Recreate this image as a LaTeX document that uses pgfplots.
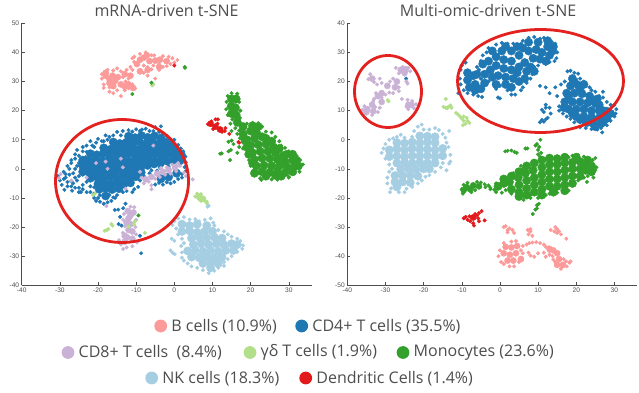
\documentclass[border=0pt]{standalone}
\usepackage{pgfplots}
\pgfplotsset{compat=1.18}
\usepackage{fontspec}
\setmainfont{Liberation Sans}
\newfontfamily\labelfont{Open Sans}
\definecolor{cB}{HTML}{FB9A99}
\definecolor{cCDf}{HTML}{1F78B4}
\definecolor{cCDe}{HTML}{CAB2D6}
\definecolor{cGD}{HTML}{B2DF8A}
\definecolor{cMo}{HTML}{33A02C}
\definecolor{cNK}{HTML}{A6CEE3}
\definecolor{cDC}{HTML}{E31A1C}
\definecolor{cAx}{HTML}{4D4D4D}
\definecolor{cRing}{HTML}{E3211F}
\pgfplotsset{
  tsne/.style={scale only axis,width=290pt,height=262pt,axis lines=left,
    axis line style={-,cAx,line width=0.8pt},
    every tick/.style={cAx,line width=0.5pt},tick align=inside,major tick length=3pt,
    tick label style={font=\fontsize{6.6}{7}\selectfont,text=cAx},
    /pgf/number format/assume math mode=true,
    xmin=-40,xmax=36,xtick={-40,-30,...,30},
    xticklabel style={yshift=1pt},yticklabel style={xshift=1pt},clip=false},
  big/.style={only marks,mark=*,mark size=4.2pt,color=#1,mark options={draw=none,fill=#1}},
  mid/.style={only marks,mark=*,mark size=3.1pt,color=#1,mark options={draw=none,fill=#1}},
  sm/.style={only marks,mark=*,mark size=1.8pt,color=#1,mark options={draw=none,fill=#1}},
}
\begin{document}
\begin{tikzpicture}[x=1pt,y=1pt]
\path (0,0) rectangle (639,393);
% ---------------- left panel
\begin{axis}[tsne,at={(21.7pt,107.7pt)},anchor=south west,ymin=-40,ymax=50,ytick={-40,-30,...,50}]
% B cells
\addplot[mid=cB] coordinates {(-18,32)(-17,30.8)(-16.2,32)(-17,29.5)(-15.5,30.2)(-14,29)(-13,28.3)(-16,28.4)(-18,33)(-14.8,31.5)(-9,37.5)(-8,38.2)(-7.2,39)(-6.5,37)(-5,37.2)(-3.8,37.5)(-9.8,36)(-11.5,32)(-12,29)(-10.8,27.8)(-7,34)(-4,35)(-2,37)(-13,32.5)(-9,33.5)};
\addplot[sm=cB] coordinates {(-14,25)(-11,29)(-12,31)(-13,33)(-12.5,34)(-13.5,31.5)(-8,33)(-9,34)(-7,32)(-4,34)(-6,34.2)(-3,35)(-1,36)(-1.5,38.5)(0,36.5)(0.8,37.4)(-0.5,38)(-5,31)(-19,31)(-19,32.5)(-17,26.5)(-16,26)(-15,27)(-18.5,29)(-17.5,34)(-16,33.8)(-14,33.5)(-12,27.7)(-11,27.5)(-10.3,27.6)(-13,27)(-11.5,35)(-11,34)(-10.5,36.7)(-9,39.5)(-7.5,40)(-6,39)(-5.5,35.5)(-4,36)(-2.5,37)(-3,38.7)(-2,35.3)(-8,35.5)(-12,29.5)(-12.8,30)(-18.5,27.8)(-15,34.5)(-17,28)(-5.3,39)(-7,35)(-11,38)(-10.5,38.5)};
% CD4 T
\addplot[big=cCDf] coordinates {(-12,11.2)(-10.3,10.7)(-8.6,11.4)(-7,10.8)(-5.2,11.3)(-3.5,10.6)(-16,9.2)(-14.3,8.7)(-12.6,9.1)(-11,8.8)(-9.2,9.3)(-7.5,8.6)(-5.8,9.2)(-4,8.7)(-2.4,9.2)(-0.8,8.5)(-18.5,7.2)(-16.8,6.7)(-15,7.1)(-13.4,6.8)(-11.7,7.2)(-10,6.7)(-8.3,7.2)(-6.6,6.8)(-4.9,7.1)(-3.2,6.7)(-1.5,7.2)(0.2,6.6)(-22,5.2)(-20.3,4.8)(-18.6,5.3)(-16.9,4.7)(-15.2,5.2)(-13.5,4.8)(-11.8,5.3)(-10.1,4.7)(-8.4,5.2)(-6.7,4.8)(-5,5.2)(-3.3,4.7)(-1.6,5.2)(0.1,4.7)(1.8,5)(-24,3)(-22.3,2.7)(-20.6,3.2)(-18.9,2.7)(-17.2,3.1)(-15.5,2.8)(-13.8,3.2)(-12.1,2.7)(-10.4,3.1)(-8.7,2.8)(-7,3.2)(-5.3,2.7)(-3.6,3.1)(-1.9,2.7)(-0.2,3.1)(1.5,2.8)(-24,1)(-22.3,0.7)(-20.6,1.2)(-18.9,0.7)(-17.2,1.1)(-15.5,0.8)(-13.8,1.2)(-12.1,0.7)(-10.4,1.1)(-8.7,0.8)(-7,1.2)(-5.3,1.7)(-3.6,2)(-24,-1)(-22.3,-1.3)(-20.6,-0.8)(-18.9,-1.3)(-17.2,-0.9)(-15.5,-1.2)(-13.8,-0.8)(-12.1,-1.3)(-10.4,-0.9)(-8.7,-1.2)(-22,-3.2)(-20.3,-2.8)(-18.6,-3.3)(-16.9,-2.7)(-15.2,-3.2)(-13.5,-2.8)(-11.8,-3.3)(-10.1,-2.7)(-20,-5.2)(-18.3,-4.8)(-16.6,-5.2)(-14.9,-4.8)(-13.2,-5.2)(-11.5,-4.8)(-19.7,-7)(-18,-6.7)(-16.3,-7.1)(-14.5,-6.8)(-18,-9.3)(-1.5,-2.8)(-3.5,-3.4)(0.6,-1.5)};
\addplot[sm=cCDf] coordinates {(-30.5,-2.5)(-30,-4)(-29,-1)(-28.5,-3)(-28,1)(-27.5,-2)(-27,3)(-26.5,-5)(-26,0)(-26,5)(-25.5,6.5)(-25,2)(-25.5,-4)(-28,-6)(-28.8,-7.2)(-26.8,-7.5)(-25,-8)(-24,-5.5)(-24,-7)(-23,-8)(-23,-4.5)(-22,-6)(-22,-8)(-21,-10)(-21,-6.3)(-20.5,-11)(-19.5,-11.3)(-18.5,-12)(-17.5,-11.5)(-16.5,-11)(-15.5,-10)(-15,-9)(-13.5,-8)(-12.5,-7.6)(-11,-8)(-10.5,-7)(-9.5,-6.2)(-9,-4)(-24,6)(-23,8)(-22,9.5)(-21,7.5)(-20,10.3)(-19,9.5)(-18,11.5)(-17,11)(-16,11.5)(-15,12.7)(-14,11.5)(-13.5,13)(-12,13.3)(-11,12.8)(-10,13.6)(-9,13)(-8.5,13.5)(-7.5,13.8)(-6.5,13)(-5.5,13)(-5,14.3)(-4,12.7)(-3,12)(-2,11.3)(-1.5,10.2)(-3.5,14.6)(0,10)(1,8.2)(1.7,7)(2.3,6)(2.9,4.2)(3,2.3)(2.7,0.6)(3,-0.8)(2,-1.8)(1,-3.5)(0,-4.5)(-1,-5)(-2,-4.6)(-3,-5.4)(-4,-4.8)(-5,-5.4)(-14.7,-14)(-15.6,-14.1)(-14.2,-16.5)(-14.6,-19)(-13.8,-19.5)(-9,-23)(-8.7,-29)(-12.8,-12)(-13.4,-13.5)(-27,-4.2)(-29.5,-5.5)(-24,-2)(-23.2,4)(-6.5,-1.5)(-8,-2.5)(-6,-0.5)(-3.8,0.4)(-1.5,0.9)(0.5,0.8)(2,-3)(-4.5,-0.6)(-29,-3.5)(-28.5,-1.8)(-28,-4.5)(-27.5,0)(-27,-6)(-27,2)(-26.5,-1.5)(-26,-3)(-26,-6.5)(-26,3.5)(-25.5,1)(-25,4.5)(-25,-2.5)(-25,-6.5)(-24.5,-8)(-23,5.8)(-24,7.5)(-21.5,8)(-20.5,9)(-18.5,9.5)(-17.5,10)(-16,-9.8)(-19.5,-9)(-21,-8.5)(-20,-10)(-17,-9)};
% CD8 T
\addplot[mid=cCDe] coordinates {(-7.5,-3.6)(-6,-2.8)(-4.5,-1.6)(-3,-1)(-1.5,-0.3)(0.2,0.5)(-12.2,-14.5)(-12,-17)(-11.5,-19)(-12,-21)(-12.4,-23.5)(-11,-24)(-13,-25)(-10.7,-15)(-13,-23)(-11,-21.5)(-12.5,-18.5)(-11.5,-16)};
\addplot[sm=cCDe] coordinates {(-8.5,-3)(-8,-5)(-6.7,-4.4)(-6,-7)(-6,-5.6)(-5,-3.4)(-3.8,-2.8)(-2.4,-2)(-1,-1.6)(0.5,-0.8)(1.5,1)(1,2)(-0.5,1.4)(-2,0.5)(-3.5,0.3)(2.5,-1.3)(3,-2.5)(4.8,-3.6)(-11.5,-13)(-10.5,-13.2)(-13.2,-15.5)(-13.4,-17.5)(-10,-17.5)(-10.2,-20)(-13,-19.7)(-13.5,-22)(-10,-22.5)(-14.5,-24.5)(-14,-26)(-12.5,-27)(-11,-26.6)(-9.8,-25.3)(-13.4,-27.5)(-18,2.5)(-17.5,0)(-14,3.5)(-13.5,0.5)(-5.5,8)(-29.8,-1.8)(-27,-4)(-23,-3)(-12.8,-6.8)(-17.8,-12.8)(-20.5,2)(-9,-1)(-30.2,-3.2)};
% gamma delta
\addplot[mid=cGD] coordinates {(6.5,-9.6)(7.5,-10.3)};
\addplot[sm=cGD] coordinates {(5.5,-9.5)(6,-8.5)(7,-8.7)(7.5,-10)(8,-11)(8.5,-11.3)(7,-11)(6.5,-10.5)(8.6,-12)(-17.7,-21)(-18.3,-21.3)(-17.3,-20.7)(-16.5,-19)(-16.2,-19.5)(-7.7,-22)(-10.3,-18)(-10.6,-19)(-20.8,-8.5)(-21.3,-9)(-5.5,29)(-5.8,28.7)(-12,-19.8)};
% Monocytes
\addplot[big=cMo] coordinates {(15,24)(16.2,24)(14.9,21.5)(16,21)(15,19)(16.2,18.5)(16.5,16)(18,14.5)(18,12)(20,13)(21.5,14)(19,10)(21,10.5)(23,11)(20,8)(22,8.3)(24,8.5)(26,7.5)(20.5,5.5)(22.5,6)(24.5,6)(26.5,5.5)(28.5,4.5)(21,3.2)(23,3.7)(25,3.6)(27,3.2)(29,2.5)(31,3)(21.5,1)(23.5,1.2)(25.5,1)(27.5,1)(29.5,0.7)(31.5,1)(23,-1)(25,-1.2)(27,-1)(29,-1.3)(26.5,-2.2)(21.5,12.5)(24,10.5)(25.5,9.5)(27.5,7)(29.5,5)(31,5)(32,3)(32.5,1)(31,-1)(28,-2.5)(24,-2.5)(21,-1.5)(20.5,2)(19.5,5)(19,7.5)(18.5,10)(22,14.5)(20.5,14.8)};
\addplot[sm=cMo] coordinates {(13.7,23)(14,25)(15,26)(16.5,25.8)(17,23)(13.6,20.5)(14,18.5)(17.3,20)(17.2,17.5)(15.2,17)(14.7,15.5)(16,14)(15,13)(17,13.2)(19,15.5)(20.5,15.8)(22,15.7)(23,14.5)(24,12.8)(25.5,12.5)(26.5,11)(24.5,10.8)(27.5,9.5)(28,8)(29,7.2)(30,6)(31,5.7)(32,4.5)(33,3)(33.7,1.5)(33,0.5)(32.8,-1)(31.5,-1.5)(30,-2.8)(28.5,-3)(27,-3.7)(25.5,-3.6)(24,-3)(22.5,-3.2)(22,-1.5)(20.8,-0.5)(20,1)(19.6,3)(19.3,5)(18,7)(18,9)(17.2,10.5)(16.5,12)(12.4,5.3)(12,5.2)(14.6,3)(14.2,9.3)(14.2,6)(14.8,6.5)(15.5,8.5)(15,9.7)(16.5,5.5)(17,7.5)(2.7,35)(2.8,34.7)(-6,29.6)(-11,25.7)(-9.4,-16)(22.8,-3.8)(30,-3)};
% NK
\addplot[big=cNK] coordinates {(2,-19)(4,-19.5)(6,-19)(8.5,-19.5)(2,-21.5)(4,-21.3)(6,-21.8)(8,-21.5)(10,-21.5)(4.5,-23.8)(6.5,-23.5)(8.5,-23.7)(10.5,-23.5)(12.5,-23.8)(5,-26)(7,-25.7)(9,-26)(11,-25.7)(13,-26)(15,-25.7)(16.5,-26)(3.5,-28.2)(5.5,-28)(7.5,-28.3)(9.5,-28)(11.5,-28.3)(13.5,-28)(15.5,-28)(4.5,-30.3)(6.5,-30.5)(8.5,-30.2)(10.5,-30.5)(12.5,-30.3)(7.5,-32.5)(9.5,-32.5)(11.5,-32.5)(9.5,-34)};
\addplot[sm=cNK] coordinates {(-0.5,-19.3)(0,-18)(1,-17)(2.5,-16.6)(4,-17.4)(5.5,-17.3)(6.5,-18)(8,-17.5)(9.5,-17)(10.2,-18.5)(10.5,-19.5)(11.5,-21)(13,-21.5)(14,-22.5)(15,-23.3)(16.5,-24)(17.3,-24.8)(18,-26.3)(17.8,-27.5)(16.5,-28.5)(15,-30)(14,-31)(13,-32)(13,-33.3)(11.5,-34)(10.5,-35)(9,-35.8)(7.5,-34.8)(6,-34)(4.5,-33.5)(3.5,-32.5)(2.5,-31.5)(2,-30.5)(2,-28.7)(1.8,-26.5)(2.5,-25.5)(2,-24)(0,-24.7)(-0.7,-24)(1,-22.5)(-1,-28)(-0.5,-28.8)(0.1,-29.3)(0.5,-20.5)(8.7,-13)(9,-12.7)};
% Dendritic
\addplot[mid=cDC] coordinates {(9.5,15.5)(10.8,14.5)(12,13.5)};
\addplot[sm=cDC] coordinates {(8.8,15.3)(9.7,16.3)(10.8,17)(11.4,17)(11.3,15.5)(12.5,12.7)(13.2,13)(13.4,14)(10.2,13.7)(0,35.5)(14.4,12)(17,9)(16.8,9.2)};
\end{axis}
% ---------------- right panel
\begin{axis}[tsne,at={(347.3pt,107.7pt)},anchor=south west,ymin=-50,ymax=40,ytick={-50,-40,...,40}]
% B cells
\addplot[mid=cB] coordinates {(1.5,-36.8)(3,-37)(4.5,-36.5)(1,-39)(2.6,-39.5)(4.2,-39)(2,-41.5)(3.5,-41.5)(14,-38)(15,-39)(15.5,-41)(16.5,-43)(15,-43)(13,-37.5)(5.5,-41)};
\addplot[sm=cB] coordinates {(-0.4,-40)(0,-38)(0.3,-42)(1,-42.7)(2.5,-43.5)(3.7,-43.5)(5,-42)(5.5,-40.5)(4.2,-34.8)(3,-35)(1,-35.5)(5.5,-38)(6,-36.5)(7,-36)(7.7,-35.5)(8.5,-35.3)(9.5,-35.2)(10.5,-35.5)(11.5,-36)(12,-36.8)(12.7,-37)(13,-38.3)(13,-39.5)(13.8,-40)(14.5,-42)(14,-41.2)(16.7,-41)(17.3,-41.8)(18.2,-42.2)(18.5,-41.8)(17.5,-43.5)(16,-44.3)(7.5,-38.8)(8,-39.8)(9,-40.2)(10,-39)(11.5,-38.8)(12,-40.2)(6,-39)(1,-30)(1.5,-29.7)(2,-31)(2.5,-30.5)(3.3,-31)(3.7,-32)(2,-31.8)(7.3,-31)(8,-31.5)(7.5,-32.5)(8.5,-33)(8,-30.7)(13.3,-31)(14.5,-30)(15,-30.7)(15.5,-31.5)(16,-32.5)(15,-32)(17.4,-34)(14.3,-31.5)};
% CD4 T
\addplot[big=cCDf] coordinates {(-8.5,23)(-8.5,20.5)(-7,22)(-6.5,19)(-8,18)(-5,17.5)(-4,22.5)(-2.5,24)(-3,27)(-1,28.5)(-1,25.5)(0.5,30.5)(1,27.5)(1,24.5)(3,30.5)(3,27)(3,24)(-0.5,22)(1.5,21.5)(3.5,21)(5,25)(5,29)(6.5,26.5)(7.5,30.5)(7,23.5)(5,20)(3,18)(8.7,28)(9.5,31)(10,33.5)(7.5,33.5)(11,30)(12.5,32)(13,29)(14,32)(10.5,27.7)(19,21)(18.5,18.5)(20.5,18.7)(17.5,16)(19.5,16)(21.5,15.8)(23.5,15)(17,13)(19,13)(21,13)(23,12.7)(25,12.5)(18,10.5)(20,10.5)(22,10.5)(24,10)(26,10)(28,9.8)(20,8)(22,8)(24,7.7)(26,7.5)(28,7.3)(22.5,6)(24.5,5.5)(26.5,5.5)(-6,22.5)(-6.5,17)(-4,19.5)(-2,21.5)(-1,19)(1.5,19)(-4.5,26)(-2,30.5)(1.5,32)(4.5,23)(6.5,21)(8,25)(9,23.5)(6,31.5)(12,27)(4.5,32)(12.5,34)(13.8,30.5)(19.5,20)(21,17)(24,13.5)(26,12)(27,10)(29,9)(18,15)(16.8,11)(19,9)(23,6)(25,4.5)(21,7)(22,19)(27,6)(25.5,14)};
\addplot[sm=cCDf] coordinates {(-10.3,24)(-10,25.5)(-9,26.5)(-10.5,21)(-10.3,19)(-9.5,17)(-8.5,16)(-7,15.5)(-5.7,15)(-4.7,14.7)(-6,25)(-5.5,24)(-5,27)(-4.5,29)(-3.5,30)(-3,31.5)(-2,31)(-1,32.7)(0.5,33.3)(2,33)(3.5,33)(5,31.5)(5.5,33)(6,34)(7.5,35)(9,35.3)(10.5,34.7)(11.5,35)(12.5,34)(13.5,33.7)(14.5,33)(15,30)(14.8,28)(14.3,27)(13,26.7)(12,26)(10,25.5)(9,25)(8.5,22.5)(8,21)(7,19.5)(6,18)(5.5,17)(4,15.5)(3,15.5)(2,17)(0,18.5)(-1,17.5)(-0.5,14.5)(0,14.2)(-1.5,19.5)(-3,20)(-5,21)(10.5,18.5)(12,18)(13,16)(14.5,18)(15,15)(16,19)(17,20)(17.7,23.5)(18.5,23.7)(19.5,23)(20.5,22.7)(21,21)(22,20)(22.5,18.5)(23.5,18)(24,17)(25,16.5)(26,15)(27,14.5)(27,16.5)(28,13)(29,12)(30,12)(30.5,10.5)(30.3,9)(30,8)(29,6.5)(28,5)(26.5,4)(25.5,3.5)(24,3.7)(22.5,4)(21,4.3)(21,6)(19.5,6)(18.5,7.2)(17.5,8)(16.5,9)(15.5,10)(15.5,11.5)(12,12)(13,11)(12,11)(11,10.3)(11.5,9.5)(12.5,7.5)(12,7)(11,6.8)(11.5,6.2)(10.5,6)(13.3,9)(26.8,2.5)(-10.9,16)(-24.6,21)};
% CD8 T
\addplot[mid=cCDe] coordinates {(-26,24)(-24.7,24.2)(-29.5,18.5)(-27.5,18)(-31,16)(-33.5,12)(-34.8,10.5)(-33.2,9.8)(-23.2,12)(-33.5,21)(-32,15)(-25,23)(-24,12)(-31,13)(-27,20)(-35,9.5)};
\addplot[sm=cCDe] coordinates {(-27.3,24.7)(-25.5,25)(-24,24.7)(-23.5,23.5)(-25,22.3)(-26.5,22.8)(-24.2,19.3)(-24.5,20)(-34,22.5)(-33,21)(-34.5,20.8)(-33,19.8)(-31.5,21)(-31,19.5)(-32.2,19)(-28,21)(-28.8,20)(-27,19.7)(-26.5,18)(-26.5,16.7)(-28,16)(-29,16.2)(-30,15.5)(-31,14.5)(-32,15)(-32.5,16)(-33,14)(-33.2,13.2)(-35.5,11.5)(-36,10.3)(-35,9)(-33.5,8.5)(-32.7,11.2)(-32,9.5)(-31.5,11)(-25.7,14)(-24.2,13.7)(-24.5,11.3)(-24,10.5)(-22.5,10.8)(-22,12.2)(-23,13.3)};
% gamma delta
\addplot[sm=cGD] coordinates {(-14.8,11.3)(-14.2,11)(-13.5,11.3)(-13,11.8)(-12.7,11)(-13.8,10.8)(-14.2,14)(-11.5,9.2)(-11,8.7)(-10.5,8)(-10,7.3)(-9.5,8)(-9.5,6.5)(-8.7,7.5)(-8.5,6.5)(-9,5.5)(-8,5.8)(-9.7,5)(-29.4,13.6)(-29.2,13.2)};
% Monocytes
\addplot[mid=cMo] coordinates {(-8.7,-16.3)(-7,-15.7)(-5.5,-16)(-9.5,-17.3)(-7.8,-17)};
\addplot[big=cMo] coordinates {(-0.5,-16)(1,-15)(2.5,-14.5)(3,-17)(4.8,-13)(5,-15.5)(5,-18)(6.7,-11.5)(7,-14)(7,-16.7)(8.7,-10.5)(9,-13)(9,-15.5)(9,-18)(11,-9.5)(11,-12)(11,-14.5)(11,-17)(13,-8.5)(13,-11)(13,-13.5)(13,-16)(15,-8.5)(15,-11)(15,-13.5)(15,-16)(17,-8)(17,-10.5)(17,-13)(17,-15.5)(19,-7.8)(19,-10)(19,-12.5)(21,-7.5)(21,-10)(22.5,-8.5)(22.5,-10.5)(3,-12.5)(1,-13.5)(5,-11)(7,-9)(9,-8)(11,-7)(13,-6.3)(15,-6.5)(17,-6)(20,-6)(23,-7)(24,-9)(24,-11)(21,-12.5)(19,-15)(17,-17.5)(14,-18)(11,-19)(7,-19)(5,-19.5)};
\addplot[sm=cMo] coordinates {(-10,-17)(-9.7,-18.5)(-9.5,-15.5)(-8.5,-14.8)(-7.5,-18)(-6.5,-17.3)(-6,-14.5)(-5,-14.7)(-4,-15.3)(-3,-15.7)(-2.5,-16.5)(-3.8,-16.3)(-1.5,-17.2)(-1,-15)(-1,-18)(0.5,-18.2)(1.5,-17.3)(2.5,-12.7)(3.5,-11.5)(4.5,-10.5)(4.5,-19.2)(6,-10)(5.5,-9)(7,-19)(7,-9)(8,-20)(8,-19)(10,-20)(11,-19.5)(12,-19)(13,-18.5)(15,-18.2)(16.5,-18)(18,-17.5)(19,-15.5)(20.5,-14)(20.5,-12)(22,-13)(23,-12.5)(24,-11)(24.5,-9.5)(25.3,-9.5)(25,-10.5)(24.3,-7)(25,-6.3)(23,-6.3)(22,-5.8)(20.5,-5.3)(19,-5.5)(18,-6)(16.5,-6)(14.5,-6.3)(12.5,-6)(10.5,-5.8)(9.7,-1.5)(10.3,-2.5)(9.3,-2)(10,-3.5)(10.6,0)(10.8,-4.5)(10,-5)(7.2,-3)(6.7,-3)(4.4,-4.5)(3.8,-4.2)(3,-3.7)(1.4,-4)(2,-3.8)(6.2,-20.7)(9.7,-22.5)(10.2,-22)(9.3,-24)(9.7,-23.6)(8.6,-25.5)(24.5,-13)(22.8,-14.5)(3,-18.5)(-2.5,-17)};
% NK
\addplot[big=cNK] coordinates {(-29,-3.5)(-27,-3.2)(-25,-3.6)(-23,-3)(-27,-1)(-25,-1.2)(-23,-0.8)(-21,-1.1)(-19,-0.8)(-17,-1)(-21,1.3)(-19,1.2)(-17,1)(-29,-5.8)(-27,-5.6)(-25,-5.9)(-23,-5.5)(-21,-3.3)(-19,-3.2)(-17,-3.5)(-15,-3)(-21,-5.6)(-19,-5.5)(-17,-5.8)(-15,-5.5)(-27,-8)(-25,-7.8)(-23,-8)(-21,-7.8)(-19,-8)(-17,-8)(-26,-10.2)(-24,-10)(-22,-10.2)(-20,-10)(-18.5,-10)(-27.5,-12.3)(-25.5,-12.3)(-23.5,-12.2)(-21.5,-12.5)(-27.5,-14.5)(-25.5,-14.5)(-23.5,-14.7)(-27,-16.2)};
\addplot[sm=cNK] coordinates {(-31,-4.5)(-30.5,-3)(-30,-6.5)(-30,-1.5)(-29,0)(-28,0.5)(-27,1)(-26,1.7)(-25,0.7)(-23,1)(-22.5,3)(-21.5,4.5)(-20.5,5.2)(-20,3.5)(-18.5,3.5)(-17,4)(-16,3.3)(-15,2)(-14.3,0.7)(-14,-1)(-13.5,-2.5)(-13,-5.2)(-13,-7.5)(-13.3,-8.2)(-15,-8)(-15.5,-9.5)(-14,-10.5)(-17,-11)(-18.5,-12.2)(-19.5,-12.7)(-20.5,-14)(-21.5,-15)(-23,-16.2)(-24.5,-16.8)(-25,-18)(-26.5,-18)(-28.8,-18)(-28.5,-16.7)(-29.5,-15)(-29.5,-13)(-29,-11)(-28.3,-10)(-29,-8.5)(-13.3,3)};
% Dendritic
\addplot[mid=cDC] coordinates {(-7,-26.7)};
\addplot[sm=cDC] coordinates {(-9.5,-27)(-9,-26.5)(-8.5,-27.5)(-8,-26.3)(-7.8,-28)(-7,-28.7)(-6.8,-29.5)(-6.5,-25.5)(-5.7,-27)(-5.5,-25.2)(-4.8,-24.5)(-6,-26)(-4,-27.7)(-5.5,-28)};
\end{axis}
% ---------------- rings
\draw[cRing,line width=2.8pt] (122,393-181) ellipse (66.5 and 61.5);
\draw[cRing,line width=2.8pt] (388,393-91.5) ellipse (33.5 and 36);
\draw[cRing,line width=2.8pt] (540.5,393-81) ellipse (83 and 51.5);
% ---------------- titles
\node[font=\labelfont\fontsize{16}{18}\selectfont,text=cAx] at (166.5,393-11) {mRNA-driven t-SNE};
\node[font=\labelfont\fontsize{16}{18}\selectfont,text=cAx] at (488,393-11) {Multi-omic-driven t-SNE};
% ---------------- legend
\foreach \x/\py/\c/\t in {160.7/326/cB/{B cells (10.9\%)},301.7/326/cCDf/{CD4+ T cells (35.5\%)},68/352.5/cCDe/{CD8+ T cells\ \ (8.4\%)},250/352.5/cGD/{γδ T cells (1.9\%)},403/352.5/cMo/{Monocytes (23.6\%)},151.7/378/cNK/{NK cells (18.3\%)},305.7/378/cDC/{Dendritic Cells (1.4\%)}}{
  \fill[\c] (\x,393-\py) circle (6.4);
  \node[anchor=west,inner sep=0pt,font=\labelfont\fontsize{16}{18}\selectfont,text=cAx] at (\x+10.5,393-\py-0.3) {\t};
}
\end{tikzpicture}
\end{document}
